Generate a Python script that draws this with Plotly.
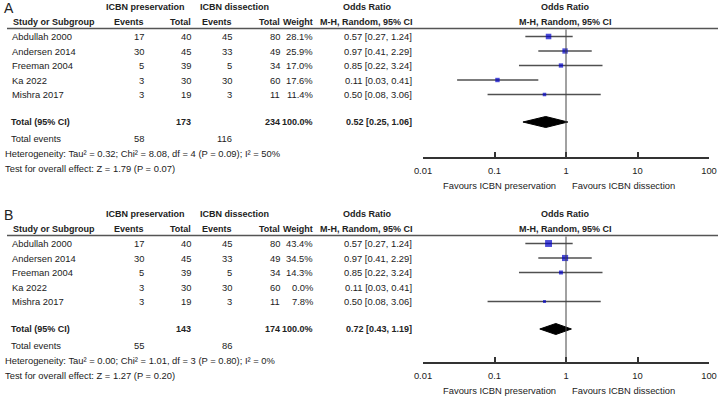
import plotly.graph_objects as go
import math

# ---------------- data ----------------
studies = ["Abdullah 2000", "Andersen 2014", "Freeman 2004", "Ka 2022", "Mishra 2017"]
pres_events = [17, 30, 5, 3, 3]
pres_total = [40, 45, 39, 30, 19]
dis_events = [45, 33, 5, 30, 3]
dis_total = [80, 49, 34, 60, 11]
or_est = [0.57, 0.97, 0.85, 0.11, 0.50]
or_lo = [0.27, 0.41, 0.22, 0.03, 0.08]
or_hi = [1.24, 2.29, 3.24, 0.41, 3.06]

weights_A = [28.1, 25.9, 17.0, 17.6, 11.4]
weights_B = [43.4, 34.5, 14.3, 0.0, 7.8]

total_A = dict(pres_total=173, dis_total=234, pres_events=58, dis_events=116,
               est=0.52, lo=0.25, hi=1.06,
               het="Heterogeneity: Tau² = 0.32; Chi² = 8.08, df = 4 (P = 0.09); I² = 50%",
               test="Test for overall effect: Z = 1.79 (P = 0.07)")
total_B = dict(pres_total=143, dis_total=174, pres_events=55, dis_events=86,
               est=0.72, lo=0.43, hi=1.19,
               het="Heterogeneity: Tau² = 0.00; Chi² = 1.01, df = 3 (P = 0.80); I² = 0%",
               test="Test for overall effect: Z = 1.27 (P = 0.20)")

tick_vals = [0.01, 0.1, 1, 10, 100]
tick_text = ["0.01", "0.1", "1", "10", "100"]

# ---------------- layout constants ----------------
W, H = 720, 399
FONT = "Liberation Sans, Arial, sans-serif"
FS = 9.4
FSB = 9
TXT = "#222222"
BLUE = "#0000C8"
LINEC = "#505050"
X0_PX, X1_PX = 423, 709  # log axis domain in px

fig = go.Figure()
annotations = []
shapes = []


def px(x):
    return x / W


def add_text(x, y, text, anchor="right", bold=False, size=None):
    if size is None:
        size = FSB if bold else FS
    if bold:
        text = "<b>" + text + "</b>"
    annotations.append(dict(x=px(x), y=y, xref="paper", yref="y", text=text,
                            showarrow=False, xanchor=anchor, yanchor="middle",
                            font=dict(family=FONT, size=size, color=TXT)))


def panel(label, top, weights, tot, xref, axis_y):
    yh1 = top
    yh2 = top + 15
    yline = top + 21.5
    row0 = top + 29.5
    rh = 14.5
    rows = [row0 + i * rh for i in range(len(studies))]
    ytot = row0 + 4 * rh + 27.5
    yte = ytot + 16
    yhet = yte + 15.5
    ytest = yhet + 15

    add_text(2, yh1 + 1, label, anchor="left", size=14)
    add_text(145.5, yh1, "ICBN preservation", anchor="center", bold=True)
    add_text(234.5, yh1, "ICBN dissection", anchor="center", bold=True)
    add_text(367, yh1, "Odds Ratio", anchor="center", bold=True)
    add_text(565, yh1, "Odds Ratio", anchor="center", bold=True)

    add_text(11, yh2, "Study or Subgroup", anchor="left", bold=True)
    add_text(146, yh2, "Events", bold=True)
    add_text(193, yh2, "Total", bold=True)
    add_text(234, yh2, "Events", bold=True)
    add_text(282, yh2, "Total", bold=True)
    add_text(315, yh2, "Weight", bold=True)
    add_text(415, yh2, "M-H, Random, 95% CI", bold=True)
    add_text(565, yh2, "M-H, Random, 95% CI", anchor="center", bold=True)

    shapes.append(dict(type="line", xref="paper", yref="y", x0=px(7), x1=px(718),
                       y0=yline, y1=yline, line=dict(color="#555555", width=1.5)))

    for i, s in enumerate(studies):
        y = rows[i]
        add_text(10, y, s, anchor="left")
        add_text(146, y, str(pres_events[i]))
        add_text(193, y, str(pres_total[i]))
        add_text(234, y, str(dis_events[i]))
        add_text(282, y, str(dis_total[i]))
        add_text(315, y, f"{weights[i]:.1f}%")
        add_text(414, y, f"{or_est[i]:.2f} [{or_lo[i]:.2f}, {or_hi[i]:.2f}]")

    add_text(9, ytot, "Total (95% CI)", anchor="left", bold=True)
    add_text(193, ytot, str(tot["pres_total"]), bold=True)
    add_text(282, ytot, str(tot["dis_total"]), bold=True)
    add_text(315, ytot, "100.0%", bold=True)
    add_text(414, ytot, f"{tot['est']:.2f} [{tot['lo']:.2f}, {tot['hi']:.2f}]", bold=True)
    add_text(9, yte, "Total events", anchor="left")
    add_text(146, yte, str(tot["pres_events"]))
    add_text(234, yte, str(tot["dis_events"]))
    add_text(3, yhet, tot["het"], anchor="left")
    add_text(3, ytest, tot["test"], anchor="left")

    # vertical line of no effect
    shapes.append(dict(type="line", xref=xref, yref="y", x0=1, x1=1,
                       y0=yline + 1, y1=axis_y, line=dict(color="#444444", width=1)))

    # CI lines
    lx, ly = [], []
    mx, my, ms = [], [], []
    for i in range(len(studies)):
        if weights[i] <= 0:
            continue
        lx += [or_lo[i], or_hi[i], None]
        ly += [rows[i], rows[i], None]
        mx.append(or_est[i])
        my.append(rows[i])
        ms.append(max(2.5, 1.05 * math.sqrt(weights[i])))
    fig.add_trace(go.Scatter(x=lx, y=ly, mode="lines", xaxis=xref, yaxis="y",
                             line=dict(color=LINEC, width=1.3), hoverinfo="skip",
                             showlegend=False))
    fig.add_trace(go.Scatter(x=mx, y=my, mode="markers", xaxis=xref, yaxis="y",
                             marker=dict(symbol="square", color=BLUE, size=ms,
                                         line=dict(width=0)),
                             showlegend=False))
    # diamond
    dh = 5.5
    fig.add_trace(go.Scatter(x=[tot["lo"], tot["est"], tot["hi"], tot["est"], tot["lo"]],
                             y=[ytot, ytot - dh, ytot, ytot + dh, ytot],
                             mode="lines", fill="toself", fillcolor="black",
                             line=dict(color="black", width=1), xaxis=xref, yaxis="y",
                             showlegend=False))
    # favours labels
    for t, anc, shift in [("Favours ICBN preservation", "right", -8),
                          ("Favours ICBN dissection", "left", 4)]:
        annotations.append(dict(x=0, y=axis_y + 27, xref=xref, yref="y", text=t,
                                showarrow=False, xanchor=anc, yanchor="middle",
                                xshift=shift,
                                font=dict(family=FONT, size=FS, color=TXT)))


panel("A", 7, weights_A, total_A, "x", 158)
panel("B", 214, weights_B, total_B, "x2", 363)

axis_common = dict(type="log", range=[-2, 2], domain=[X0_PX / W, X1_PX / W],
                   anchor="free", showgrid=False, zeroline=False, showline=True,
                   linecolor="#333333", linewidth=1.5, ticks="inside", ticklen=5,
                   tickcolor="#333333", tickwidth=1.5, automargin=False,
                   tickvals=tick_vals, ticktext=tick_text, ticklabelstandoff=4,
                   tickfont=dict(family=FONT, size=FS, color=TXT), fixedrange=True)

fig.update_layout(
    width=W, height=H, margin=dict(l=0, r=0, t=0, b=0, autoexpand=False),
    paper_bgcolor="white", plot_bgcolor="rgba(0,0,0,0)",
    xaxis=dict(axis_common, position=1 - 158 / H),
    xaxis2=dict(axis_common, position=1 - 363 / H),
    yaxis=dict(range=[H, 0], domain=[0, 1], visible=False, fixedrange=True,
               automargin=False),
    annotations=annotations, shapes=shapes, showlegend=False,
)

fig.write_html("out.html", config={"displayModeBar": False},
               post_script="document.body.style.margin='0px';document.body.style.overflow='hidden';")
